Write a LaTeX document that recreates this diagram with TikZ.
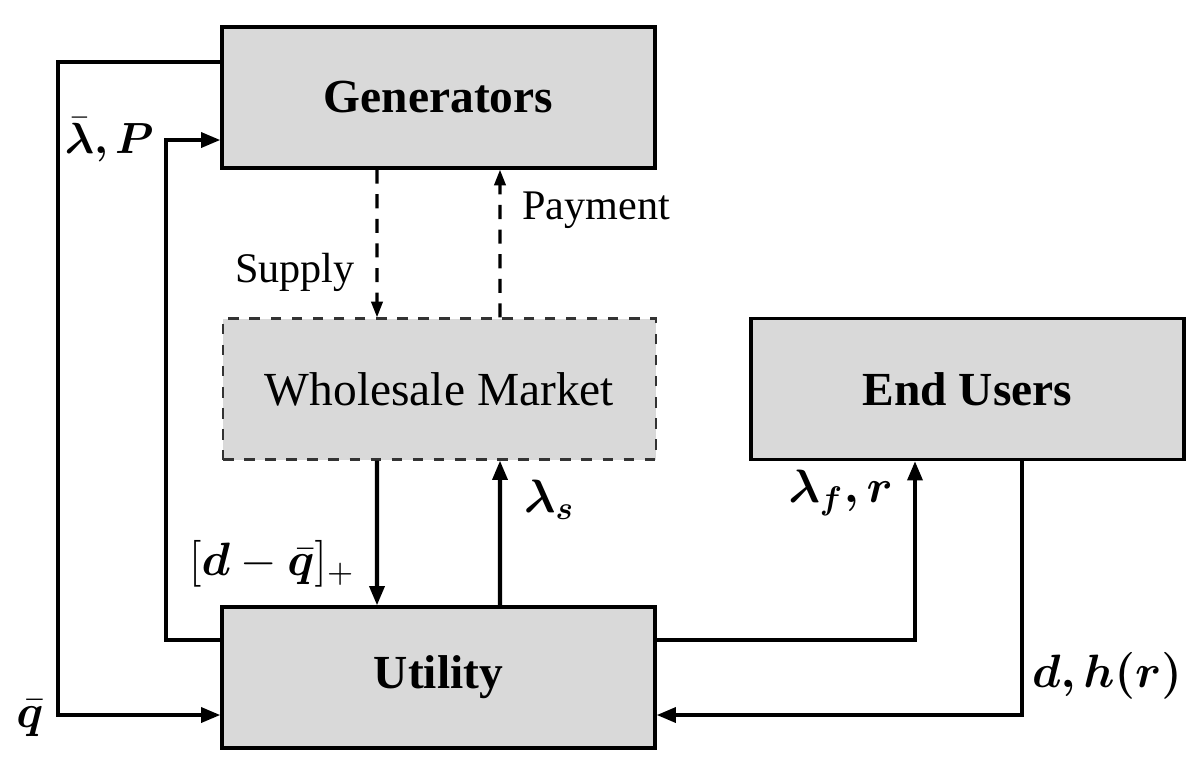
\RequirePackage{fix-cm}
\documentclass[tikz,border=0pt]{standalone}
\usepackage{amsmath, bm}
\usepackage{fontspec}
\setmainfont{Liberation Serif}
\usetikzlibrary{arrows.meta}

\tikzset{
  block/.style={draw, line width=0.9pt, fill=black!15, minimum width=4.33cm,
    minimum height=1.41cm, inner sep=0pt, font=\fontsize{13.5}{16}\selectfont},
  flow/.style={line width=1.15pt, -{Triangle[length=5.5pt,width=4.2pt]}},
  dflow/.style={line width=0.9pt, dash pattern=on 4pt off 3pt,
    -{Triangle[length=4.5pt,width=3.2pt]}},
  lbl/.style={inner sep=1pt, font=\fontsize{12}{14}\selectfont},
  mlbl/.style={inner sep=1pt, font=\fontsize{13.3}{15}\selectfont}
}

\begin{document}
\begin{tikzpicture}
    \useasboundingbox (0,0) rectangle (11.98,-7.64);
    % blocks
    \node[block] (gen) at (4.385,-0.975){\textbf{Generators}};
    \node[block, dashed, line width=0.6pt, draw=black!80] (wm) at (4.395,-3.89){Wholesale\ Market};
    \node[block] (eu) at (9.675,-3.89){\textbf{End\ Users}};
    \node[block] (util) at (4.385,-6.775){\textbf{Utility}};
    % generators <-> market
    \draw[dflow] ([xshift=-6.15mm]gen.south) to ([xshift=-6.25mm]wm.north);
    \draw[dflow] ([xshift=6.05mm]wm.north) to ([xshift=6.15mm]gen.south);
    % market <-> utility
    \draw[flow] ([xshift=-6.25mm]wm.south) to ([xshift=-6.15mm]util.north);
    \draw[flow] ([xshift=6.15mm]util.north) to ([xshift=6.05mm]wm.south);
    % utility <-> generators
    \draw[flow] ([yshift=3.55mm]gen.west) -- ++(-1.62,0) |- ([yshift=-3.75mm]util.west);
    \draw[flow] ([yshift=3.75mm]util.west) -- ++(-0.54,0) |- ([yshift=-4.25mm]gen.west);
    % utility <-> end users
    \draw[flow] ([yshift=3.75mm]util.east) -| ([xshift=-5.25mm]eu.south);
    \draw[flow] ([xshift=5.45mm]eu.south) |- ([yshift=-3.75mm]util.east);
    % labels
    \node[mlbl, anchor=east, font=\fontsize{12.4}{15}\selectfont] (lgen) at (1.58,-1.40){$\bm{\bar{\lambda}, P}$};
    \node[mlbl] (lq) at (0.30,-7.18){$\bar{\bm{q}}$};
    \node[lbl, anchor=east] (lsup) at (3.59,-2.72){Supply};
    \node[lbl, anchor=west] (lpay) at (5.18,-2.10){Payment};
    \node[mlbl] (ldem) at (2.72,-5.64){$[\bm{d}-\bar{\bm{q}}]_{+}$};
    \node[mlbl, anchor=west] (lls) at (5.20,-5.00){$\bm{\lambda}_{\bm{s}}$};
    \node[mlbl, anchor=east] (llf) at (8.97,-4.93){$\bm{\lambda}_{\bm{f}}\bm{,} \bm{r}$};
    \node[mlbl, anchor=west] (ldh) at (10.28,-6.76){$\bm{d, h(r)}$};
\end{tikzpicture}
\end{document}
